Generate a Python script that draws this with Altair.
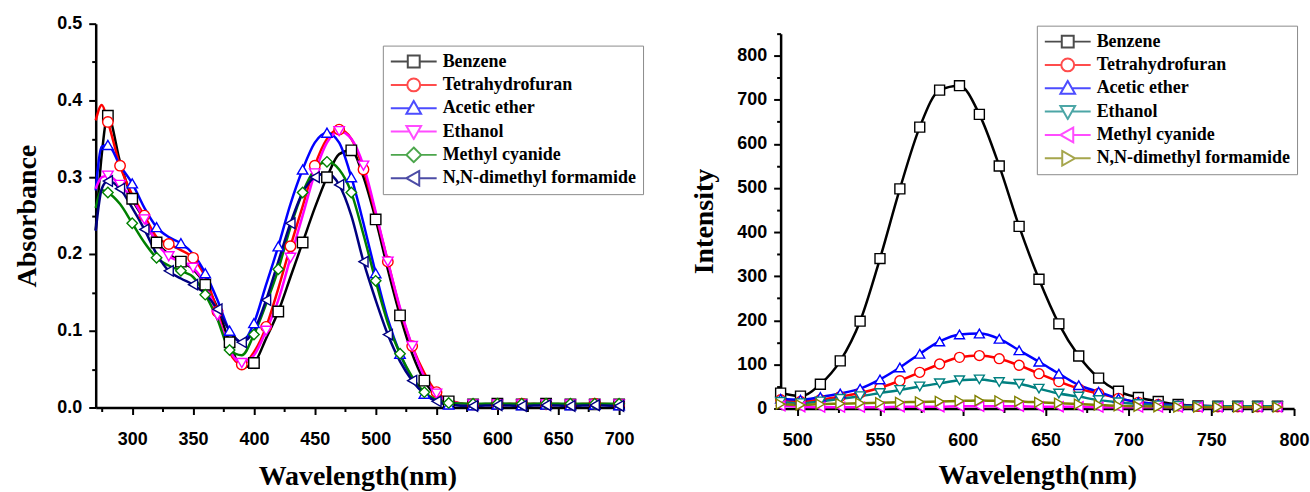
import altair as alt
import pandas as pd

# ---------------- Absorbance (left) ----------------
abs_names = ["Benzene", "Tetrahydrofuran", "Acetic ether", "Ethanol",
             "Methyl cyanide", "N,N-dimethyl formamide"]
abs_colors = ["#000000", "#FF0000", "#0000FF", "#FF00FF", "#008000", "#000080"]
abs_shapes = ["square", "circle", "triangle-up", "triangle-down", "diamond", "triangle-left"]

abs_wl = [270, 275, 280, 290, 300, 310, 320, 330, 340, 350, 360, 370, 380, 390,
          400, 410, 420, 430, 440, 450, 460, 470, 480, 490, 500, 510, 520, 530,
          540, 550, 560, 580, 600, 620, 640, 660, 680, 700]

abs_benzene = [0.231, 0.330, 0.380, 0.320, 0.272, 0.245, 0.215, 0.200, 0.190, 0.180,
               0.160, 0.130, 0.085, 0.052, 0.058, 0.090, 0.125, 0.170, 0.215, 0.260,
               0.300, 0.330, 0.335, 0.300, 0.245, 0.180, 0.120, 0.070, 0.035, 0.015,
               0.008, 0.004, 0.005, 0.004, 0.005, 0.004, 0.004, 0.004]
abs_thf = [0.374, 0.394, 0.372, 0.315, 0.277, 0.250, 0.222, 0.213, 0.205, 0.195,
           0.170, 0.125, 0.072, 0.056, 0.072, 0.105, 0.155, 0.210, 0.262, 0.315,
           0.350, 0.362, 0.350, 0.310, 0.252, 0.190, 0.128, 0.080, 0.045, 0.020,
           0.010, 0.004, 0.004, 0.005, 0.004, 0.004, 0.005, 0.004]
abs_acetic = [0.283, 0.340, 0.342, 0.315, 0.292, 0.260, 0.235, 0.222, 0.214, 0.200,
              0.175, 0.140, 0.100, 0.085, 0.110, 0.160, 0.210, 0.265, 0.310, 0.345,
              0.358, 0.345, 0.300, 0.240, 0.175, 0.115, 0.070, 0.038, 0.018, 0.008,
              0.004, 0.003, 0.004, 0.003, 0.004, 0.003, 0.004, 0.003]
abs_ethanol = [0.285, 0.300, 0.302, 0.290, 0.272, 0.245, 0.215, 0.197, 0.190, 0.182,
               0.160, 0.120, 0.075, 0.058, 0.068, 0.100, 0.140, 0.195, 0.250, 0.305,
               0.345, 0.360, 0.350, 0.315, 0.255, 0.190, 0.130, 0.080, 0.040, 0.018,
               0.008, 0.004, 0.004, 0.004, 0.004, 0.004, 0.004, 0.004]
abs_mecn = [0.260, 0.283, 0.280, 0.265, 0.240, 0.215, 0.195, 0.185, 0.178, 0.170,
            0.147, 0.115, 0.075, 0.068, 0.095, 0.135, 0.180, 0.235, 0.280, 0.310,
            0.320, 0.310, 0.280, 0.225, 0.165, 0.110, 0.070, 0.040, 0.020, 0.010,
            0.006, 0.005, 0.005, 0.005, 0.005, 0.005, 0.005, 0.005]
abs_dmf = [0.230, 0.285, 0.295, 0.285, 0.260, 0.232, 0.200, 0.178, 0.168, 0.160,
           0.148, 0.128, 0.100, 0.085, 0.100, 0.140, 0.190, 0.240, 0.280, 0.300,
           0.305, 0.290, 0.250, 0.190, 0.140, 0.095, 0.060, 0.035, 0.018, 0.008,
           0.004, 0.002, 0.003, 0.002, 0.003, 0.002, 0.003, 0.002]
abs_series = [abs_benzene, abs_thf, abs_acetic, abs_ethanol, abs_mecn, abs_dmf]

# ---------------- Fluorescence (right) ----------------
fl_names = ["Benzene", "Tetrahydrofuran", "Acetic ether", "Ethanol",
            "Methyl cyanide", "N,N-dimethyl formamide"]
fl_colors = ["#000000", "#FF0000", "#0000FF", "#008080", "#FF00FF", "#808000"]
fl_shapes = ["square", "circle", "triangle-up", "triangle-down", "triangle-left", "triangle-right"]

fl_wl = [490, 502, 514, 526, 538, 550, 562, 574, 586, 598, 610, 622, 634, 646,
         658, 670, 682, 694, 706, 718, 730, 742, 754, 766, 778, 790]
fl_benzene = [35, 28, 55, 108, 198, 340, 498, 638, 722, 732, 667, 550, 413, 293,
              192, 119, 69, 39, 25, 16, 9, 6, 5, 5, 5, 5]
fl_thf = [20, 16, 20, 27, 35, 47, 63, 82, 101, 116, 120, 113, 98, 79,
          61, 45, 34, 23, 14, 9, 6, 5, 4, 4, 4, 4]
fl_acetic = [22, 20, 26, 34, 45, 66, 93, 124, 152, 168, 170, 158, 132, 106,
             79, 53, 38, 23, 15, 10, 7, 6, 5, 5, 5, 5]
fl_ethanol = [15, 12, 16, 22, 28, 35, 42, 50, 57, 64, 66, 60, 56, 45,
              34, 27, 19, 14, 10, 7, 6, 5, 5, 5, 5, 5]
fl_mecn = [6, 4, 3, 3, 3, 3, 4, 4, 4, 5, 5, 5, 5, 4,
           4, 4, 3, 3, 3, 3, 3, 3, 3, 3, 3, 3]
fl_dmf = [10, 8, 10, 11, 12, 13, 14, 15, 16, 17, 18, 17, 16, 14,
          12, 10, 8, 6, 5, 4, 3, 3, 3, 3, 3, 3]
fl_series = [fl_benzene, fl_thf, fl_acetic, fl_ethanol, fl_mecn, fl_dmf]

# legend symbols: line with a hollow marker in the middle (unit box -1..1)
LEGEND_PATHS = {
    "square": "M-1,0H-0.26M0.26,0H1M-0.26,-0.26H0.26V0.26H-0.26Z",
    "circle": "M-1,0H-0.28M0.28,0H1M-0.28,0A0.28,0.28,0,1,1,0.28,0A0.28,0.28,0,1,1,-0.28,0Z",
    "triangle-up": "M-1,0H-0.18M0.18,0H1M0,-0.32L0.32,0.24H-0.32Z",
    "triangle-down": "M-1,0H-0.18M0.18,0H1M0,0.32L0.32,-0.24H-0.32Z",
    "diamond": "M-1,0H-0.32M0.32,0H1M0,-0.32L0.32,0L0,0.32L-0.32,0Z",
    "triangle-left": "M-1,0H-0.32M0.24,0H1M-0.32,0L0.24,-0.32V0.32Z",
    "triangle-right": "M-1,0H-0.24M0.32,0H1M0.32,0L-0.24,-0.32V0.32Z",
}

SANS = "Liberation Sans"
SERIF = "Liberation Serif"


def long_df(wl, names, series, every_other):
    rows = []
    for s, (name, vals) in enumerate(zip(names, series)):
        for w, v in zip(wl, vals):
            if every_other:
                mk = (w >= 570) or (w == 280) or (290 <= w <= 560 and ((w // 10) + s) % 2 == 0)
            else:
                mk = True
            rows.append({"wl": w, "val": v, "series": name, "marker": mk})
    return pd.DataFrame(rows)


def make_axis(title, values, test, fmt=None, label_pad=7, title_pad=13):
    kw = dict(
        title=title, values=values, grid=False,
        labelExpr=f"({test}) ? datum.label : ''",
        tickSize={"condition": {"test": test, "value": 7}, "value": 4},
        tickWidth=2, tickColor="black", domainColor="black", domainWidth=2.5,
        labelFont=SANS, labelFontWeight="bold", labelFontSize=18, labelColor="black",
        labelPadding=label_pad, labelFlush=False,
        titleFont=SERIF, titleFontWeight="bold", titleFontSize=28,
        titleColor="black", titlePadding=title_pad, labelOverlap=False,
    )
    if fmt:
        kw["format"] = fmt
    return alt.Axis(**kw)


def panel(df, names, colors, shapes, xdom, ydom, xaxis, yaxis, w, h, lx, ly, msize):
    x = alt.X("wl:Q", scale=alt.Scale(domain=xdom, nice=False, zero=False), axis=xaxis)
    y = alt.Y("val:Q", scale=alt.Scale(domain=ydom, nice=False, zero=False), axis=yaxis)
    cscale = alt.Scale(domain=names, range=colors)
    base = alt.Chart(df)
    line = base.mark_line(interpolate="monotone", strokeWidth=2.5).encode(
        x=x, y=y, color=alt.Color("series:N", scale=cscale, legend=None))
    pts = base.transform_filter("datum.marker").mark_point(
        filled=True, fill="white", size=msize, strokeWidth=1.4, opacity=1).encode(
        x=x, y=y,
        stroke=alt.Stroke("series:N", scale=cscale, legend=None),
        shape=alt.Shape("series:N", scale=alt.Scale(domain=names, range=shapes), legend=None))
    leg = dict(orient="none", legendX=lx, legendY=ly, title=None,
               strokeColor="#8c8c8c", fillColor="white", padding=7,
               labelFont=SERIF, labelFontWeight="bold", labelFontSize=18,
               labelColor="black", symbolSize=2116, symbolStrokeWidth=2,
               symbolFillColor="white", clipHeight=18, rowPadding=5.4,
               labelOffset=5, labelLimit=400)
    legend_layer = base.transform_filter("datum.val < -1").mark_point(
        filled=False, strokeWidth=2).encode(
        x=x, y=y,
        color=alt.Color("series:N", scale=cscale, legend=alt.Legend(**leg)),
        shape=alt.Shape("series:N",
                        scale=alt.Scale(domain=names, range=[LEGEND_PATHS[s] for s in shapes]),
                        legend=alt.Legend(**leg)))
    return alt.layer(line, pts, legend_layer).resolve_scale(
        color="independent", shape="independent", stroke="independent"
    ).properties(width=w, height=h)


df_abs = long_df(abs_wl, abs_names, abs_series, True)
df_fl = long_df(fl_wl, fl_names, fl_series, False)

left = panel(
    df_abs, abs_names, abs_colors, abs_shapes, [270, 700], [0, 0.5],
    make_axis("Wavelength(nm)", list(range(275, 701, 25)), "datum.value % 50 == 0",
              label_pad=16, title_pad=14),
    make_axis("Absorbance", [round(i * 0.05, 2) for i in range(11)],
              "abs(datum.value*10 - round(datum.value*10)) < 0.000001", fmt=".1f",
              label_pad=7, title_pad=15),
    525, 385, 288, 22, 110)

right = panel(
    df_fl, fl_names, fl_colors, fl_shapes, [490, 800], [0, 850],
    make_axis("Wavelength(nm)", list(range(500, 801, 25)), "datum.value % 50 == 0",
              label_pad=16, title_pad=12),
    make_axis("Intensity", list(range(0, 851, 50)), "datum.value % 100 == 0",
              label_pad=7, title_pad=18),
    515, 376, 257, -8, 100)

# tiny invisible spacer that lowers the right panel a little
spacer = alt.Chart(pd.DataFrame({"a": [0]})).mark_point(opacity=0).encode(
    x=alt.X("a:Q", axis=None), y=alt.Y("a:Q", axis=None)
).properties(width=1, height=1)

right_col = alt.vconcat(spacer, right, spacing=-3)

chart = alt.hconcat(left, right_col, spacing=46).properties(
    padding={"left": 13, "top": 14, "right": 0, "bottom": 0},
    background="white",
).configure_view(stroke=None)

chart.save("out.html", embed_options={"renderer": "svg", "actions": False})
